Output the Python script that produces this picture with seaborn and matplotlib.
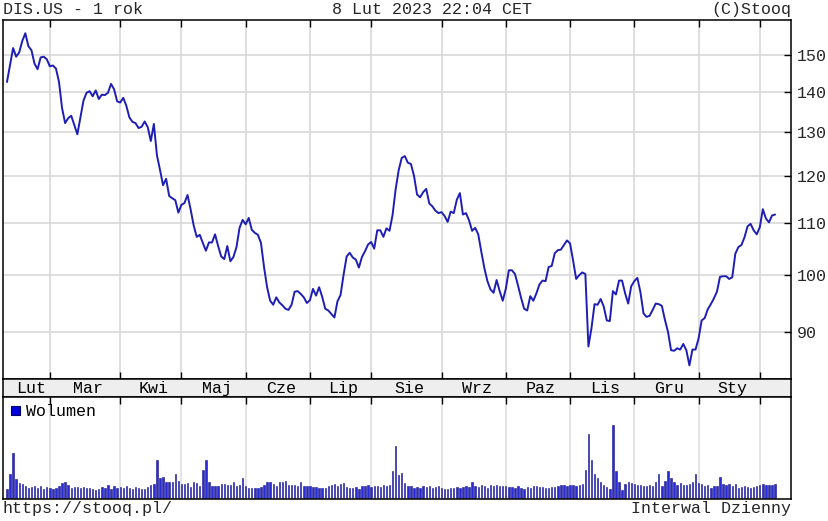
import numpy as np
import pandas as pd
import matplotlib
matplotlib.use("Agg")
import matplotlib.pyplot as plt
import seaborn as sns
from matplotlib.ticker import FixedLocator, NullLocator, FixedFormatter
from matplotlib.patches import Rectangle

# ---- data (daily closes DIS.US, Feb 2022 - Feb 2023) ----
price = [
    142.6, 147.2, 151.8, 149.4, 150.6, 153.8, 156.0, 152.3, 151.2, 147.5,
    146.0, 149.2, 149.4, 148.7, 146.8, 147.0, 146.2, 142.6, 135.9, 132.2,
    133.4, 134.0, 131.7, 129.5, 133.6, 137.8, 139.8, 140.2, 138.9, 140.4,
    138.2, 139.3, 139.2, 139.8, 142.1, 140.7, 137.6, 137.3, 138.5, 136.5,
    133.6, 132.5, 132.2, 131.0, 131.3, 132.6, 131.2, 127.9, 132.0, 124.6,
    121.3, 117.9, 119.3, 115.6, 115.1, 114.7, 112.1, 113.7, 114.1, 115.8,
    112.8, 109.5, 107.2, 107.6, 106.0, 104.5, 106.1, 106.1, 107.7, 105.4,
    103.4, 102.9, 105.4, 102.5, 103.3, 105.2, 109.0, 110.6, 109.7, 111.0,
    108.6, 108.0, 107.6, 106.0, 101.4, 97.7, 95.3, 94.6, 95.9, 95.0,
    94.5, 93.9, 93.7, 94.6, 96.9, 97.0, 96.5, 95.9, 94.9, 95.4,
    97.4, 96.2, 97.7, 96.0, 93.9, 93.6, 93.0, 92.4, 95.2, 96.3,
    100.0, 103.4, 104.1, 103.2, 102.8, 101.3, 103.3, 104.4, 105.7, 106.2,
    104.9, 108.5, 108.5, 107.2, 108.9, 108.4, 111.6, 117.0, 121.2, 124.0,
    124.4, 122.9, 122.6, 120.0, 115.9, 115.3, 116.4, 117.1, 114.0, 113.4,
    112.5, 112.0, 112.2, 111.4, 110.2, 112.3, 112.0, 114.8, 116.2, 111.7,
    112.0, 110.5, 108.4, 109.0, 107.7, 104.3, 101.2, 98.8, 97.3, 96.7,
    99.0, 97.0, 95.3, 97.4, 100.8, 100.8, 100.1, 98.0, 95.8, 93.9,
    93.6, 96.1, 95.3, 96.6, 98.2, 98.9, 98.8, 101.4, 101.6, 104.0,
    104.6, 104.7, 105.6, 106.5, 105.9, 102.6, 99.2, 99.9, 100.4, 100.1,
    87.6, 90.6, 94.7, 94.6, 95.6, 94.3, 91.9, 91.8, 97.0, 96.4,
    98.9, 98.9, 96.6, 94.8, 97.9, 98.8, 99.4, 96.8, 93.1, 92.5,
    92.7, 93.7, 94.8, 94.7, 94.4, 92.0, 90.0, 87.0, 86.9, 87.3,
    87.1, 88.0, 87.0, 84.6, 87.1, 87.1, 88.9, 91.9, 92.3, 93.8,
    94.7, 95.7, 96.9, 99.6, 99.7, 99.7, 99.2, 99.5, 103.9, 105.2,
    105.6, 107.1, 109.3, 109.8, 108.5, 107.7, 109.1, 112.8, 110.9, 110.1,
    111.5, 111.7,
]

volume = [
    # Lut
    9, 24, 45, 19, 15, 14, 12, 10, 11, 12, 10, 12, 9, 11,
    # Mar
    10, 9, 10, 12, 15, 16, 13, 10, 11, 11, 10, 11, 10, 10, 9, 8, 9, 11, 10, 13, 9, 12, 10,
    # Kwi
    11, 10, 12, 10, 9, 11, 10, 9, 9, 11, 13, 14, 38, 20, 21, 16, 16, 16, 24, 17,
    # Maj
    14, 14, 15, 11, 16, 15, 12, 28, 38, 16, 12, 12, 12, 14, 14, 13, 13, 16, 12, 13, 20,
    # Cze
    12, 10, 10, 10, 10, 11, 13, 16, 16, 14, 12, 16, 16, 17, 13, 13, 13, 12, 16, 12, 12,
    # Lip
    12, 11, 11, 10, 10, 10, 12, 13, 14, 12, 14, 15, 11, 10, 10, 11, 9, 12, 12, 13,
    # Sie
    11, 12, 12, 11, 13, 12, 13, 27, 52, 23, 25, 15, 12, 12, 10, 11, 10, 12, 11, 12, 10, 11, 12,
    # Wrz
    10, 9, 9, 10, 10, 11, 10, 11, 12, 11, 16, 12, 11, 13, 12, 10, 13, 12, 13, 12, 12,
    # Paz
    12, 11, 11, 10, 12, 10, 9, 11, 10, 12, 12, 11, 11, 10, 10, 11, 11, 12, 13, 13, 12,
    # Lis
    13, 13, 12, 13, 14, 28, 64, 38, 24, 20, 16, 13, 11, 9, 73, 27, 16, 8, 14, 16, 15,
    # Gru
    14, 13, 13, 12, 12, 13, 12, 16, 24, 12, 17, 27, 20, 16, 13, 15, 13, 13, 14, 16, 24,
    # Sty
    15, 14, 12, 13, 10, 12, 12, 21, 14, 13, 14, 12, 14, 10, 11, 12, 11, 10, 11, 12,
    # Lut
    13, 14, 13, 13, 13, 14,
]

month_labels = ["Lut", "Mar", "Kwi", "Maj", "Cze", "Lip", "Sie", "Wrz", "Paz", "Lis", "Gru", "Sty"]
month_starts = [14, 37, 57, 78, 99, 119, 142, 163, 184, 205, 226, 246]
price_ticks = [90, 100, 110, 120, 130, 140, 150]

df = pd.DataFrame({"day": np.arange(len(price)), "close": price, "vol": volume})

# ---- styling ----
sns.set_theme(style="white")
plt.rcParams["font.family"] = ["Liberation Mono", "DejaVu Sans Mono"]
FS = 12
LINE = "#1e1eb4"
GRID = "#d6d6d6"

W, H = 829, 521
fig = plt.figure(figsize=(W / 100, H / 100), dpi=100)
fig.patch.set_facecolor("white")

L, R = 3, 791
def box(top, bottom):
    return [L / W, 1 - bottom / H, (R - L) / W, (bottom - top) / H]

ax = fig.add_axes(box(19.5, 379))
band = fig.add_axes(box(379, 397))
axv = fig.add_axes(box(397, 499))

xmin, xmax = -1.3, 256.2

# ---- price panel ----
sns.lineplot(data=df, x="day", y="close", ax=ax, color=LINE, linewidth=1.4)
ax.set_yscale("log")
ax.set_xlim(xmin, xmax)
ax.set_ylim(82.5, 160)
ax.yaxis.set_major_locator(FixedLocator(price_ticks))
ax.yaxis.set_major_formatter(FixedFormatter([str(t) for t in price_ticks]))
ax.yaxis.set_minor_locator(NullLocator())
ax.xaxis.set_major_locator(FixedLocator(month_starts))
ax.xaxis.set_minor_locator(NullLocator())
ax.yaxis.tick_right()
ax.tick_params(axis="y", which="major", direction="in", length=5, width=1,
               color="black", labelsize=FS, pad=4, right=True, left=False)
ax.tick_params(axis="x", which="major", direction="in", length=5, width=1,
               color="black", top=True, bottom=True, labelbottom=False)
ax.grid(True, color=GRID, linewidth=1.1)
ax.set_axisbelow(True)
ax.set_xlabel("")
ax.set_ylabel("")
for s in ax.spines.values():
    s.set_color("black")
    s.set_linewidth(1.1)

# ---- month band ----
band.set_facecolor("#eeeeee")
band.set_xlim(xmin, xmax)
band.set_ylim(0, 1)
band.set_xticks([])
band.set_yticks([])
bounds = [0] + month_starts
for i, lab in enumerate(month_labels):
    mid = (bounds[i] + bounds[i + 1]) / 2 + 1
    band.text(mid, 0.45, lab, ha="center", va="center", fontsize=FS, color="black")
for s in band.spines.values():
    s.set_color("black")
    s.set_linewidth(1.1)

# ---- volume panel ----
sns.barplot(data=df, x="day", y="vol", ax=axv, native_scale=True, color="#2b2bd6",
            saturation=1, width=0.45, edgecolor="#14148a", linewidth=0.4, errorbar=None)
axv.set_xlim(xmin, xmax)
axv.set_ylim(-1.3, 100.5)
axv.xaxis.set_major_locator(FixedLocator(month_starts))
axv.xaxis.set_minor_locator(NullLocator())
axv.set_yticks([])
axv.tick_params(axis="x", direction="in", length=5, width=1, color="black",
                top=True, bottom=False, labelbottom=False)
axv.grid(True, axis="x", color="#dddddd", linewidth=1.1)
axv.set_axisbelow(True)
axv.set_xlabel("")
axv.set_ylabel("")
for s in axv.spines.values():
    s.set_color("black")
    s.set_linewidth(1.1)

# legend square + label
fig.patches.append(Rectangle((11 / W, 1 - 415 / H), 9 / W, 9 / H, transform=fig.transFigure,
                             facecolor="#0000dd", edgecolor="#000066", linewidth=0.8))
fig.text(26 / W, 1 - 416 / H, "Wolumen", ha="left", va="baseline", fontsize=FS, color="black")

# ---- header / footer texts ----
fig.text(3 / W, 1 - 14 / H, "DIS.US - 1 rok", ha="left", va="baseline", fontsize=FS)
fig.text(432.5 / W, 1 - 14 / H, "8 Lut 2023 22:04 CET", ha="center", va="baseline", fontsize=FS)
fig.text(791 / W, 1 - 14 / H, "(C)Stooq", ha="right", va="baseline", fontsize=FS)
fig.text(3 / W, 1 - 513.5 / H, "https://stooq.pl/", ha="left", va="baseline", fontsize=FS)
fig.text(791 / W, 1 - 513.5 / H, "Interwal Dzienny", ha="right", va="baseline", fontsize=FS)

fig.savefig("out.png", dpi=100, facecolor="white")
